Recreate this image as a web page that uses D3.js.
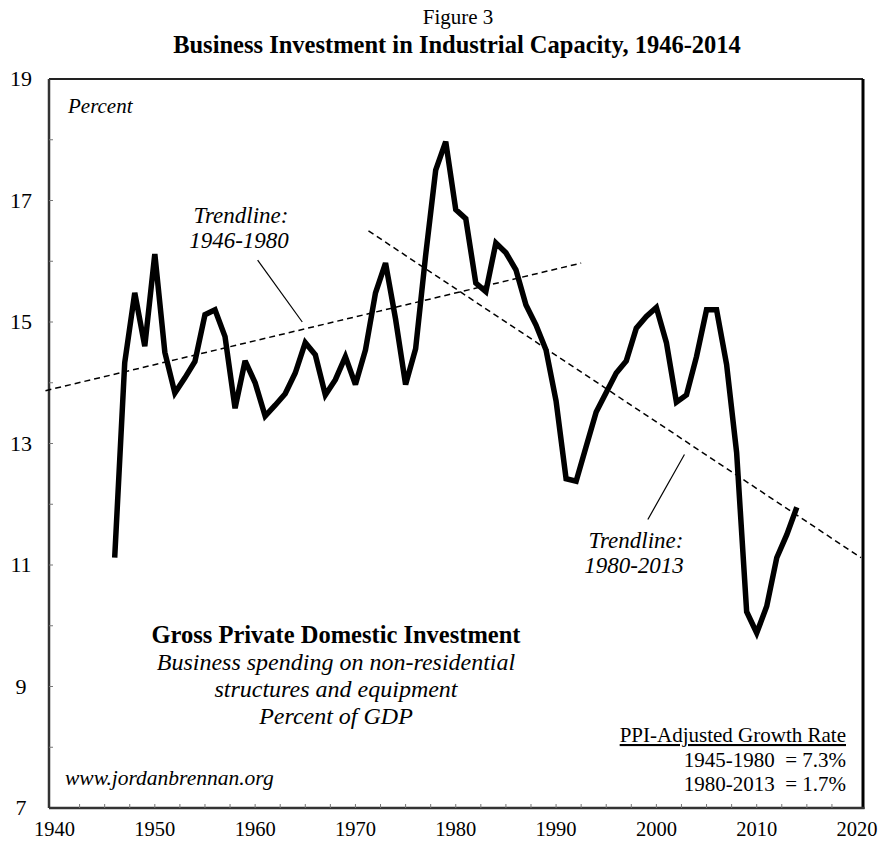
<!DOCTYPE html>
<html lang="en">
<head>
<meta charset="UTF-8">
<title>Business Investment in Industrial Capacity, 1946-2014</title>
<script src="https://cdn.jsdelivr.net/npm/d3@7"></script>
<style>
  body{margin:0;background:#fff;}
  svg{display:block;font-family:"Liberation Serif","DejaVu Serif",serif;}
</style>
</head>
<body>
<div id="chart"></div>
<script>
// gross private domestic investment, non-residential, % of GDP
var years=[1946,1947,1948,1949,1950,1951,1952,1953,1954,1955,1956,1957,1958,1959,
  1960,1961,1962,1963,1964,1965,1966,1967,1968,1969,1970,1971,1972,1973,1974,1975,
  1976,1977,1978,1979,1980,1981,1982,1983,1984,1985,1986,1987,1988,1989,1990,1991,
  1992,1993,1994,1995,1996,1997,1998,1999,2000,2001,2002,2003,2004,2005,2006,2007,
  2008,2009,2010,2011,2012,2013,2014];
var values=[11.12,14.33,15.48,14.6,16.12,14.5,13.83,14.08,14.35,15.12,15.2,14.76,13.58,14.36,
  14.0,13.45,13.63,13.82,14.16,14.66,14.46,13.8,14.05,14.43,13.97,14.54,15.48,15.97,15.05,13.97,
  14.56,16.1,17.5,17.97,16.85,16.7,15.64,15.5,16.3,16.14,15.86,15.28,14.95,14.54,13.7,12.42,
  12.38,12.95,13.52,13.84,14.16,14.36,14.9,15.09,15.24,14.66,13.68,13.8,14.43,15.2,15.2,14.3,
  12.85,10.23,9.88,10.32,11.12,11.5,11.95];
// trendline end points [year, percent]
var trend1=[[1939.1,13.87],[1992.5,15.97]];
var trend2=[[1971.3,16.5],[2020.4,11.12]];
// leader lines from labels to trendlines
var leader1=[[1960.25,16.02],[1964.7,15.0]];
var leader2=[[2002.8,12.82],[1999.15,11.75]];
var xTicks=[1940,1950,1960,1970,1980,1990,2000,2010,2020];
var yTicks=[7,9,11,13,15,17,19];

var W=880,H=843;
var svg=d3.select("#chart").append("svg").attr("width",W).attr("height",H);

var x=d3.scaleLinear().domain([1940,2020]).range([54.5,857]);
var y=d3.scaleLinear().domain([7,19]).range([808,79]);

// titles
svg.append("text").attr("x",458).attr("y",24).attr("text-anchor","middle")
  .style("font-size","21px").text("Figure 3");
svg.append("text").attr("x",457).attr("y",53).attr("text-anchor","middle")
  .style("font-size","24.5px").style("font-weight","bold")
  .text("Business Investment in Industrial Capacity, 1946-2014");

// frame
var L=49,R=863,T=79,B=808;
svg.append("line").attr("x1",L).attr("x2",R).attr("y1",T).attr("y2",T).attr("stroke","#222").attr("stroke-width",2);
svg.append("line").attr("x1",L).attr("x2",L).attr("y1",T).attr("y2",B).attr("stroke","#333").attr("stroke-width",2.5);
svg.append("line").attr("x1",R).attr("x2",R).attr("y1",T).attr("y2",B+1).attr("stroke","#000").attr("stroke-width",3);
svg.append("line").attr("x1",L).attr("x2",R+1.5).attr("y1",B).attr("y2",B).attr("stroke","#333").attr("stroke-width",2.5);

// minor ticks (inside)
var xMinor=d3.range(1942.5,2020,2.5);
svg.selectAll(".xt").data(xMinor).enter().append("line")
  .attr("x1",function(d){return x(d);}).attr("x2",function(d){return x(d);})
  .attr("y1",B).attr("y2",B-4).attr("stroke","#777").attr("stroke-width",1);
var yMinor=d3.range(8,19,1);
svg.selectAll(".yt").data(yMinor).enter().append("line")
  .attr("x1",L).attr("x2",L+4)
  .attr("y1",function(d){return y(d);}).attr("y2",function(d){return y(d);})
  .attr("stroke","#777").attr("stroke-width",1);

// tick labels
svg.selectAll(".xl").data(xTicks).enter().append("text")
  .attr("x",function(d){return x(d);}).attr("y",836).attr("text-anchor","middle")
  .style("font-size","20.5px").text(function(d){return d;});
svg.selectAll(".yl").data(yTicks).enter().append("text")
  .attr("x",21).attr("y",function(d){return y(d)+7;}).attr("text-anchor","middle")
  .style("font-size","22px").text(function(d){return d;});

// trendlines
var ln=d3.line().x(function(d){return x(d[0]);}).y(function(d){return y(d[1]);});
[trend1,trend2].forEach(function(t){
  svg.append("path").attr("d",ln(t)).attr("fill","none").attr("stroke","#000")
    .attr("stroke-width",1.5).attr("stroke-dasharray","6,4");
});
[leader1,leader2].forEach(function(t){
  svg.append("path").attr("d",ln(t)).attr("fill","none").attr("stroke","#000").attr("stroke-width",1.2);
});

// main series
var series=years.map(function(yr,i){return [yr,values[i]];});
svg.append("path").attr("d",ln(series)).attr("fill","none").attr("stroke","#000")
  .attr("stroke-width",5.5).attr("stroke-linejoin","miter").attr("stroke-miterlimit",3);

// annotations
function txt(px,py,s,size,opt){
  opt=opt||{};
  var t=svg.append("text").attr("x",px).attr("y",py).style("font-size",size+"px")
    .attr("text-anchor",opt.anchor||"start").text(s);
  if(opt.italic) t.style("font-style","italic");
  if(opt.bold) t.style("font-weight","bold");
  if(opt.underline) t.style("text-decoration","underline");
  return t;
}
txt(68,113,"Percent",21,{italic:true});
txt(241,223,"Trendline:",23,{italic:true,anchor:"middle"});
txt(239,248,"1946-1980",23,{italic:true,anchor:"middle"});
txt(636,548,"Trendline:",23,{italic:true,anchor:"middle"});
txt(634,573,"1980-2013",23,{italic:true,anchor:"middle"});
txt(336,643,"Gross Private Domestic Investment",24.5,{bold:true,anchor:"middle"});
txt(336,670,"Business spending on non-residential",24,{italic:true,anchor:"middle"});
txt(336,697,"structures and equipment",24,{italic:true,anchor:"middle"});
txt(336,724,"Percent of GDP",24,{italic:true,anchor:"middle"});
txt(65,785,"www.jordanbrennan.org",21.5,{italic:true});
txt(846,742,"PPI-Adjusted Growth Rate",21,{anchor:"end",underline:true});
txt(846,767,"1945-1980\u00a0\u00a0= 7.3%",21,{anchor:"end"});
txt(846,791,"1980-2013\u00a0\u00a0= 1.7%",21,{anchor:"end"});
</script>
</body>
</html>
